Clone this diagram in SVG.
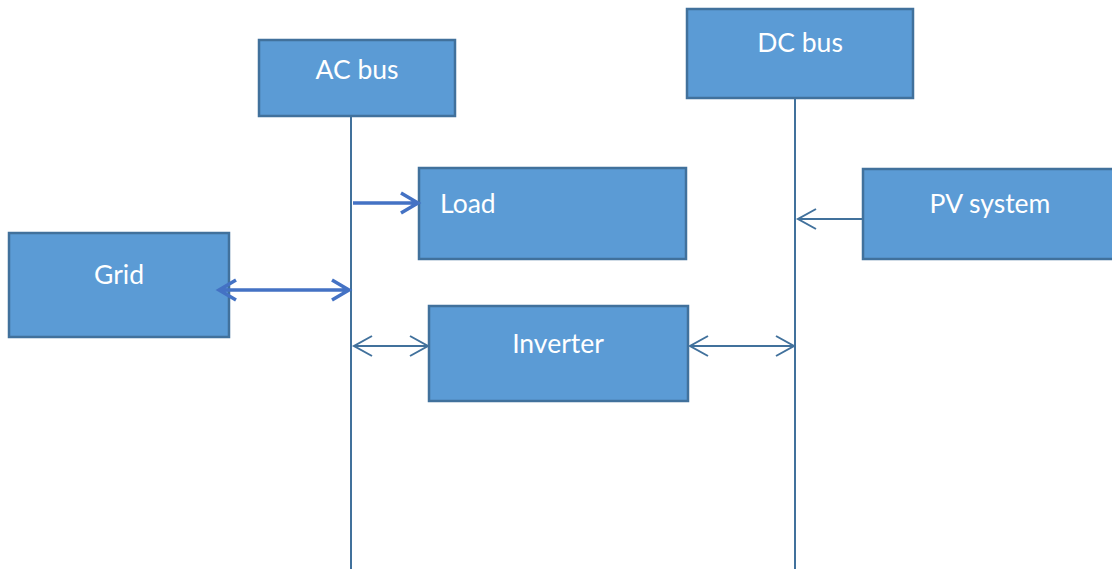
<svg xmlns="http://www.w3.org/2000/svg" width="1112" height="569" viewBox="0 0 1112 569">
<style>
.box{fill:#5B9BD5;stroke:#41719C;stroke-width:2.5}
.lbl{font-family:Lato,"Open Sans","Liberation Sans",sans-serif;font-size:26.5px;fill:#FFFFFF}
.bus{stroke:#41719C;stroke-width:2;fill:none}
.thin{stroke:#41719C;stroke-width:2;fill:none}
.thick{stroke:#4472C4;stroke-width:3.5;fill:none}
</style>
<rect width="1112" height="569" fill="#FFFFFF"/>
<g id="ac-bus"><rect class="box" x="259" y="40" width="196" height="76"/><text class="lbl" x="357" y="79" text-anchor="middle">AC bus</text></g>
<g id="dc-bus"><rect class="box" x="687" y="9" width="226" height="89"/><text class="lbl" x="800" y="52" text-anchor="middle">DC bus</text></g>
<g id="load"><rect class="box" x="419" y="168" width="267" height="91"/><text class="lbl" x="440" y="213">Load</text></g>
<g id="pv-system"><rect class="box" x="863" y="169" width="260" height="90"/><text class="lbl" x="990" y="213" text-anchor="middle">PV system</text></g>
<g id="grid"><rect class="box" x="9" y="233" width="220" height="104"/><text class="lbl" x="119" y="284" text-anchor="middle">Grid</text></g>
<g id="inverter"><rect class="box" x="429" y="306" width="259" height="95"/><text class="lbl" x="558" y="353" text-anchor="middle">Inverter</text></g>
<g id="connectors">
<line class="bus" x1="351" y1="117" x2="351" y2="569"/>
<line class="bus" x1="795" y1="99" x2="795" y2="569"/>
<path class="thick" d="M353,203 H418 M401,193 L418,203 L401,213"/>
<path class="thick" d="M219,290 H349 M236,280 L219,290 L236,300 M332,280 L349,290 L332,300"/>
<path class="thin" d="M354,346 H428 M372,336 L354,346 L372,356 M410,336 L428,346 L410,356"/>
<path class="thin" d="M690,346 H794 M708,336 L690,346 L708,356 M776,336 L794,346 L776,356"/>
<path class="thin" d="M862,219 H798 M816,209 L798,219 L816,229"/>
</g>
</svg>
